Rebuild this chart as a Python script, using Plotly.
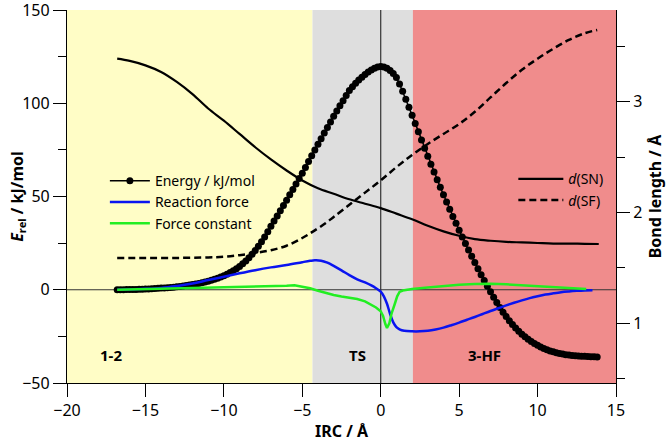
import numpy as np
import plotly.graph_objects as go

# ---------------- data ----------------
# Energy along IRC (grid step 0.2 Å starting at -16.8 Å)
irc_start = -16.8
irc_step = 0.2
energy = [
    0.0, 0.0, 0.05, 0.1, 0.1, 0.15, 0.2, 0.25, 0.3, 0.4,          # -16.8 .. -15.0
    0.45, 0.55, 0.65, 0.75, 0.9, 1.0, 1.1, 1.25, 1.4, 1.6,        # -14.8 .. -13.0
    1.8, 2.0, 2.3, 2.5, 2.8, 3.1, 3.4, 3.8, 4.2, 4.6,             # -12.8 .. -11.0
    5.1, 5.6, 6.2, 6.8, 7.5, 8.3, 9.2, 10.2, 11.3, 12.5,          # -10.8 .. -9.0
    13.9, 15.4, 17.1, 19.0, 21.0, 23.3, 25.8, 28.3, 31.1, 34.0,   # -8.8 .. -7.0
    36.8, 39.6, 42.4, 45.2, 48.0, 50.9, 53.8, 56.7, 59.6, 62.5,   # -6.8 .. -5.0
    65.6, 68.7, 71.8, 74.9, 78.0, 81.0, 84.0, 87.0, 90.0, 93.0,   # -4.8 .. -3.0
    95.9, 98.7, 101.4, 104.2, 106.8, 108.8, 110.7, 112.4, 114.0, 115.4,  # -2.8 .. -1.0
    116.7, 117.8, 118.7, 119.4, 119.7, 119.4, 118.7, 117.5, 115.9, 113.8,  # -0.8 .. 1.0
    110.3, 106.4, 102.2, 97.9, 93.5, 89.1, 84.7, 80.3, 75.9, 71.6,  # 1.2 .. 3.0
    67.3, 63.1, 59.0, 54.9, 50.9, 47.0, 43.1, 39.3, 35.6, 31.9,   # 3.2 .. 5.0
    28.3, 24.8, 21.3, 17.9, 14.6, 11.3, 8.1, 5.0, 1.9, -1.1,      # 5.2 .. 7.0
    -4.0, -6.8, -9.5, -12.0, -14.4, -16.6, -18.6, -20.5, -22.2, -23.8,  # 7.2 .. 9.0
    -25.2, -26.5, -27.7, -28.8, -29.8, -30.7, -31.5, -32.2, -32.8, -33.3,  # 9.2 .. 11.0
    -33.8, -34.2, -34.5, -34.8, -35.0, -35.2, -35.4, -35.5, -35.6, -35.7,  # 11.2 .. 13.0
    -35.8, -35.9, -35.9, -36.0,                                    # 13.2 .. 13.8
]
irc_energy = [round(irc_start + irc_step * i, 2) for i in range(len(energy))]

# Reaction force
force_x = [-16.8, -15, -14, -13, -12, -11, -10, -9, -8, -7, -6, -5, -4.5, -4.2, -3.8,
           -3.4, -3, -2.5, -2, -1.5, -1, -0.6, -0.3, 0, 0.2, 0.4, 0.6, 0.8, 1.0, 1.2,
           1.5, 2.0, 2.5, 3.0, 3.5, 4, 4.5, 5, 5.5, 6, 6.5, 7, 7.5, 8, 8.5, 9, 9.5,
           10, 10.5, 11, 11.5, 12, 12.5, 13, 13.5]
force_y = [0, 0.5, 1.0, 2.0, 3.3, 5.2, 7.0, 8.8, 10.5, 12.0, 13.3, 14.8, 15.5, 15.8, 15.6,
           14.5, 12.8, 10.4, 7.8, 5.6, 3.9, 2.3, 0.8, -1.0, -3.5, -7.5, -13, -17.5, -20, -21.2,
           -22, -22.3, -22.3, -22.0, -21.3, -20.3, -19, -17.6, -16.1, -14.6, -13, -11.4, -9.9,
           -8.4, -7, -5.7, -4.5, -3.5, -2.6, -1.9, -1.3, -0.9, -0.6, -0.4, -0.3]

# Force constant
fconst_x = [-16.8, -15, -13, -11, -9, -7, -6, -5.5, -5, -4.5, -4, -3.5, -3, -2.5, -2,
            -1.5, -1, -0.6, -0.3, 0, 0.15, 0.3, 0.4, 0.55, 0.7, 0.9, 1.05, 1.2, 1.4,
            1.7, 2, 3, 4, 5, 6, 7, 8, 9, 10, 11, 12, 13.1]
fconst_y = [0, 0.3, 0.7, 1.2, 1.6, 2.0, 2.2, 2.4, 1.8, 0.8, -0.5, -1.8, -2.8, -3.6, -4.3,
            -5.0, -6.2, -8.0, -9.5, -11.5, -14, -18.5, -20.5, -18, -12.5, -7.5, -3.5, -1.2, -0.4,
            0.0, 0.4, 1.2, 2.0, 2.7, 3.1, 3.2, 2.9, 2.4, 1.8, 1.2, 0.7, 0.4]

# Bond lengths (right axis)
dsn_x = [-16.8, -16, -15, -14, -13, -12, -11, -10, -9, -8, -7, -6, -5, -4, -3, -2, -1,
         0, 1, 2, 3, 4, 5, 6, 7, 8, 9, 10, 11, 12, 13, 13.9]
dsn_y = [3.39, 3.37, 3.33, 3.27, 3.18, 3.07, 2.94, 2.83, 2.71, 2.59, 2.48, 2.38, 2.29,
         2.22, 2.17, 2.12, 2.08, 2.04, 1.99, 1.94, 1.88, 1.83, 1.79, 1.76, 1.745, 1.735,
         1.73, 1.725, 1.72, 1.72, 1.717, 1.716]
dsf_x = [-16.8, -15, -13, -11, -10, -9, -8, -7, -6, -5, -4.3, -3.5, -3, -2, -1, 0, 1, 2,
         3, 4, 5, 6, 7, 8, 9, 10, 11, 12, 13, 13.8]
dsf_y = [1.59, 1.59, 1.59, 1.595, 1.60, 1.615, 1.635, 1.66, 1.70, 1.77, 1.83, 1.905, 1.96,
         2.07, 2.18, 2.29, 2.41, 2.52, 2.62, 2.71, 2.80, 2.91, 3.04, 3.17, 3.29, 3.39, 3.48,
         3.56, 3.62, 3.65]

# Regions
region_edges = [-20, -4.35, 2.05, 15]
region_colors = ["#FFFDC6", "#DEDEDE", "#F08C8C"]
region_labels = ["1-2", "TS", "3-HF"]
region_label_x = [-17.2, -1.5, 6.6]
region_label_y = -35

FONT = "Noto Sans"

fig = go.Figure()

fig.add_trace(go.Scatter(
    x=irc_energy, y=energy, mode="lines+markers", name="Energy / kJ/mol",
    line=dict(color="black", width=1.5), marker=dict(color="black", size=7),
    legend="legend"))
fig.add_trace(go.Scatter(
    x=force_x, y=force_y, mode="lines", name="Reaction force",
    line=dict(color="#0A14F0", width=2.5, shape="spline"), legend="legend"))
fig.add_trace(go.Scatter(
    x=fconst_x, y=fconst_y, mode="lines", name="Force constant",
    line=dict(color="#22EE22", width=2.5), legend="legend"))
fig.add_trace(go.Scatter(
    x=dsn_x, y=dsn_y, mode="lines", name="<i>d</i>(SN)", yaxis="y2",
    line=dict(color="black", width=2.2, shape="spline"), legend="legend2"))
fig.add_trace(go.Scatter(
    x=dsf_x, y=dsf_y, mode="lines", name="<i>d</i>(SF)", yaxis="y2",
    line=dict(color="black", width=2.5, dash="7px,4px", shape="spline"), legend="legend2"))

shapes = []
for i, c in enumerate(region_colors):
    shapes.append(dict(type="rect", xref="x", yref="paper", x0=region_edges[i],
                       x1=region_edges[i + 1], y0=0, y1=1, fillcolor=c,
                       line=dict(width=0), layer="below"))
shapes.append(dict(type="line", xref="paper", yref="y", x0=0, x1=1, y0=0, y1=0,
                   line=dict(color="#333333", width=1.2), layer="below"))
shapes.append(dict(type="line", xref="x", yref="paper", x0=0, x1=0, y0=0, y1=1,
                   line=dict(color="#333333", width=1.2), layer="below"))

annotations = []
for lab, lx in zip(region_labels, region_label_x):
    annotations.append(dict(x=lx, y=region_label_y, xref="x", yref="y", text="<b>%s</b>" % lab,
                            showarrow=False, font=dict(family=FONT, size=15, color="black")))

axis_common = dict(showgrid=False, zeroline=False, showline=True, linecolor="black",
                   linewidth=1.2, ticks="outside", ticklen=13, tickwidth=1.2,
                   tickcolor="black", automargin=False, ticklabeloverflow="allow",
                   tickfont=dict(family=FONT, size=16, color="black"))

fig.update_layout(
    template="none",
    width=666, height=442,
    margin=dict(l=67, r=50, t=10, b=59),
    paper_bgcolor="white", plot_bgcolor="white",
    font=dict(family=FONT, size=14, color="black"),
    shapes=shapes, annotations=annotations,
    xaxis=dict(range=[-20, 15], dtick=5, tick0=0,
               title=dict(text="<b>IRC / Å</b>", font=dict(family=FONT, size=16)),
               **axis_common),
    yaxis=dict(range=[-50, 150], dtick=50, tick0=0,
               minor=dict(dtick=25, ticks="outside", ticklen=8, tickwidth=1.2, tickcolor="black"),
               title=dict(text="<b><i>E</i><sub>rel</sub> / kJ/mol</b>",
                          font=dict(family=FONT, size=16)),
               **axis_common),
    yaxis2=dict(range=[0.46, 3.83], dtick=1, tick0=0, overlaying="y", side="right",
                minor=dict(dtick=0.5, ticks="outside", ticklen=8, tickwidth=1.2, tickcolor="black"),
                title=dict(text="<b>Bond length / Å</b>", font=dict(family=FONT, size=16)),
                **axis_common),
    legend=dict(x=0.069, y=0.584, xanchor="left", yanchor="top", bgcolor="rgba(0,0,0,0)",
                font=dict(family=FONT, size=14), itemwidth=40, tracegroupgap=0),
    legend2=dict(x=0.813, y=0.589, xanchor="left", yanchor="top", bgcolor="rgba(0,0,0,0)",
                 font=dict(family=FONT, size=14), itemwidth=45, tracegroupgap=0),
    showlegend=True,
)

fig.write_html("out.html", config={"displayModeBar": False},
               post_script="document.body.style.margin='0';")
